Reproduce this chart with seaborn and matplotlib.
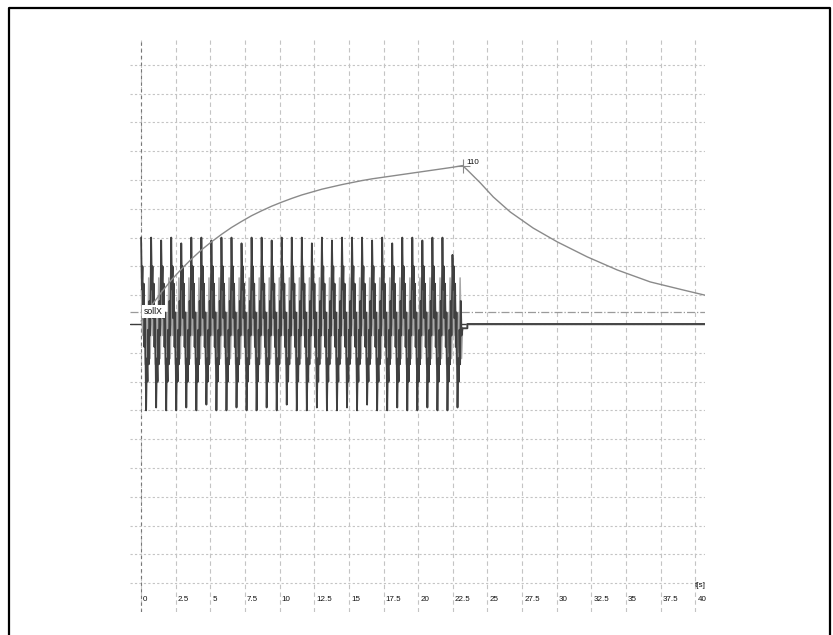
import matplotlib
matplotlib.use('Agg')
import matplotlib.pyplot as plt
import seaborn as sns
import numpy as np
import pandas as pd
from matplotlib.lines import Line2D

# ---- data (grid unit = 10) ----
PERIOD = 0.725          # s, one oscillation cycle
x_ticks = [0, 2.5, 5, 7.5, 10, 12.5, 15, 17.5, 20, 22.5, 25, 27.5, 30, 32.5, 35, 37.5, 40]
tick_labels = ['0', '2.5', '5', '7.5', '10', '12.5', '15', '17.5', '20', '22.5',
               '25', '27.5', '30', '32.5', '35', '37.5', '40']

# dark trace: top / bottom spike of each cycle
dark_hi = [30, 30, 29, 30, 28, 30, 30, 29, 30, 30, 28, 30, 30, 29, 30, 30,
           30, 28, 30, 29, 30, 30, 30, 29, 30, 28, 30, 30, 29, 30, 30, 24]
dark_lo = [-30, -29, -30, -30, -29, -30, -28, -30, -30, -29, -30, -30, -29, -30, -28, -30,
           -30, -29, -30, -30, -29, -30, -28, -30, -30, -29, -30, -30, -29, -30, -30, -29]
# wiggles between the spikes
dark_down = [12, 20, 2, 14, -8, 4]
dark_up = [-12, -20, -2, -14, 8, -4]
dark_phase = [0, .08, .14, .2, .26, .33, .4, .5, .58, .64, .7, .76, .83, .9]

# light trace, same cycles
light_vals = [12, -4, 10, -14, 4, -10, 16, -12]
light_phase = [.04, .15, .26, .4, .54, .65, .76, .9]

# after the oscillation stops
tail_t = [23.2, 23.55, 23.55, 40.7]
tail_v = [-1.5, -1.5, 0, 0]

# slow curve: rise while oscillating, then decay
rise_v = [1, 6.2, 10.9, 15.2, 19.0, 22.5, 25.7, 28.5, 31.1, 33.5, 35.6, 37.6, 39.3, 40.9,
          42.3, 43.6, 44.8, 45.8, 46.8, 47.6, 48.4, 49.1, 49.8, 50.4, 50.9, 51.4, 51.9,
          52.4, 52.9, 53.4, 53.9, 54.4]
peak_t, peak_v = 23.2, 55.0
decay_t = [23.2, 23.54, 24.48, 25.42, 26.64, 28.3, 30.04, 32.2, 34.37, 36.75, 39.13, 40.7]
decay_v = [55.0, 53.5, 49.0, 44.1, 38.9, 33.3, 28.5, 23.3, 18.75, 14.6, 11.8, 10.0]

ref_level = 4.2   # dash-dot line

# ---- build tables ----
dark_rows = []
light_rows = []
for k in range(len(dark_hi)):
    vals = [dark_hi[k]] + dark_down + [dark_lo[k]] + dark_up
    for ph, v in zip(dark_phase, vals):
        dark_rows.append(((k + ph) * PERIOD, v))
    for ph, v in zip(light_phase, light_vals):
        light_rows.append(((k + ph) * PERIOD, v))
dark_rows += list(zip(tail_t, tail_v))
light_rows += list(zip(tail_t, tail_v))
dark = pd.DataFrame(dark_rows, columns=['t', 'v'])
light = pd.DataFrame(light_rows, columns=['t', 'v'])

rise_t = [k * PERIOD for k in range(len(rise_v))] + [peak_t]
curve = pd.DataFrame({'t': rise_t, 'v': rise_v + [peak_v]})
decay = pd.DataFrame({'t': decay_t, 'v': decay_v})

# ---- plot ----
sns.set_style('white')
plt.rcParams['font.family'] = ['Liberation Sans', 'DejaVu Sans']

fig = plt.figure(figsize=(8.33, 6.35), dpi=100)
ax = fig.add_axes([130 / 833, 23 / 635, 575 / 833, 572 / 635])
ax.set_xlim(-0.8, 40.7)
ax.set_ylim(-100, 98.6)

ax.set_xticks(x_ticks)
ax.set_xticks(np.arange(-0.5, 40.6, 0.5), minor=True)
ax.set_yticks(np.arange(-90, 91, 10))
ax.grid(axis='x', which='major', color='#c4c4c4', ls=(0, (4, 3)), lw=0.8)
ax.grid(axis='y', which='major', color='#c4c4c4', ls=(0, (2, 2)), lw=0.8)
ax.axvline(0, color='#777777', ls=(0, (3, 3)), lw=0.8)
for s in ax.spines.values():
    s.set_visible(False)
ax.tick_params(axis='x', which='major', direction='in', length=5, width=0.8,
               color='#333333', labelbottom=False)
ax.tick_params(axis='x', which='minor', direction='in', length=1.5, width=0.9,
               color='#333333')
ax.tick_params(axis='y', length=0, labelleft=False)

for x, lab in zip(x_ticks, tick_labels):
    ax.text(x + 0.15, 0.021, lab, transform=ax.get_xaxis_transform(),
            fontsize=5.8, ha='left', va='center', color='#111111')
ax.text(40, 0.047, 't[s]', transform=ax.get_xaxis_transform(),
        fontsize=5.8, ha='left', va='center', color='#111111')

ax.axhline(0, color='#3c3c3c', lw=1.0, zorder=2)
ax.axhline(ref_level, color='#9a9a9a', lw=0.9, ls='-.', zorder=2)

sns.lineplot(data=light, x='t', y='v', ax=ax, color='#a8a8a8', lw=1.1,
             sort=False, estimator=None, zorder=3)
sns.lineplot(data=dark, x='t', y='v', ax=ax, color='#404040', lw=1.3,
             sort=False, estimator=None, zorder=4)
sns.lineplot(data=curve, x='t', y='v', ax=ax, color='#8a8a8a', lw=1.0,
             sort=False, estimator=None, zorder=5)
sns.lineplot(data=decay, x='t', y='v', ax=ax, color='#8a8a8a', lw=1.0,
             sort=False, estimator=None, zorder=5)
ax.plot([peak_t], [peak_v], marker='+', ms=10, mew=0.8, color='#8a8a8a', zorder=6)
ax.text(peak_t + 0.25, peak_v + 1.2, '110', fontsize=5.8, color='#111111',
        ha='left', va='center')

ax.text(0.2, ref_level, 'sollX', fontsize=6.2, color='#111111', ha='left', va='center',
        zorder=7, bbox=dict(facecolor='white', edgecolor='none', pad=1.5))
ax.set_xlabel('')
ax.set_ylabel('')

# outer frame of the screenshot
fig.add_artist(Line2D([9 / 833, 9 / 833, 830 / 833, 830 / 833],
                      [-0.02, 1 - 8 / 635, 1 - 8 / 635, -0.02],
                      transform=fig.transFigure, color='black', lw=1.6))

fig.savefig('out.png', dpi=100)
